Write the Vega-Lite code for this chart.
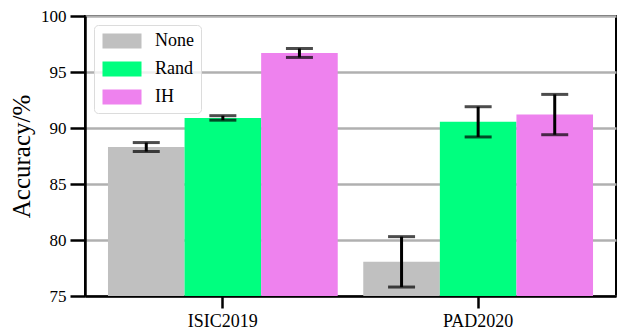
{
  "$schema": "https://vega.github.io/schema/vega-lite/v6.json",
  "autosize": "none",
  "width": 531,
  "height": 280,
  "padding": {"left": 85, "top": 16, "right": 1, "bottom": 34},
  "background": "white",
  "config": {
    "font": "Liberation Serif",
    "view": {"stroke": "black", "strokeWidth": 2},
    "axis": {
      "labelFont": "Liberation Serif",
      "titleFont": "Liberation Serif",
      "labelColor": "black",
      "titleColor": "black",
      "domainColor": "black",
      "domainWidth": 2.5,
      "tickColor": "black",
      "tickWidth": 2.5
    }
  },
  "data": {
    "values": [
      {"dataset": "ISIC2019", "method": "None", "acc": 88.3, "lo": 87.9, "hi": 88.7},
      {"dataset": "ISIC2019", "method": "Rand", "acc": 90.9, "lo": 90.7, "hi": 91.1},
      {"dataset": "ISIC2019", "method": "IH", "acc": 96.7, "lo": 96.3, "hi": 97.1},
      {"dataset": "PAD2020", "method": "None", "acc": 78.05, "lo": 75.8, "hi": 80.3},
      {"dataset": "PAD2020", "method": "Rand", "acc": 90.55, "lo": 89.2, "hi": 91.9},
      {"dataset": "PAD2020", "method": "IH", "acc": 91.2, "lo": 89.4, "hi": 93.0}
    ]
  },
  "encoding": {
    "x": {
      "field": "dataset", "type": "nominal", "sort": ["ISIC2019", "PAD2020"],
      "scale": {"paddingInner": 0.1, "paddingOuter": 0.09},
      "axis": {"title": null, "labelAngle": 0, "labelFontSize": 18, "tickSize": 12, "labelPadding": 4, "grid": false}
    },
    "xOffset": {"field": "method", "type": "nominal", "sort": ["None", "Rand", "IH"]}
  },
  "layer": [
    {
      "mark": {"type": "bar", "clip": true},
      "encoding": {
        "y": {
          "field": "acc", "type": "quantitative",
          "scale": {"domain": [75, 100], "zero": false, "nice": false},
          "axis": {
            "title": "Accuracy/%", "titleFontSize": 25, "titleFontWeight": "normal", "titlePadding": 6,
            "labelFontSize": 17, "tickSize": 15, "labelPadding": 4, "values": [75, 80, 85, 90, 95, 100],
            "grid": true, "gridColor": "#b0b0b0", "gridWidth": 2.5, "gridOpacity": 1
          }
        },
        "color": {
          "field": "method", "type": "nominal", "sort": ["None", "Rand", "IH"],
          "scale": {"domain": ["None", "Rand", "IH"], "range": ["#c0c0c0", "#00ff7f", "#ee82ee"]},
          "legend": {
            "title": null, "orient": "top-left", "offset": 9, "padding": 7,
            "strokeColor": "#dcdcdc", "cornerRadius": 4,
            "fillColor": "rgba(255,255,255,0.8)",
            "labelFont": "Liberation Serif", "labelFontSize": 18, "labelColor": "black",
            "symbolType": "M-1,-1H4.2V1H-1Z", "symbolSize": 225, "symbolStrokeWidth": 0,
            "labelOffset": 36, "rowPadding": 10
          }
        }
      }
    },
    {
      "mark": {"type": "rule", "color": "black", "strokeWidth": 3},
      "encoding": {
        "y": {"field": "lo", "type": "quantitative"},
        "y2": {"field": "hi"}
      }
    },
    {
      "mark": {"type": "tick", "color": "black", "thickness": 3, "size": 27},
      "encoding": {"y": {"field": "lo", "type": "quantitative"}}
    },
    {
      "mark": {"type": "tick", "color": "black", "thickness": 3, "size": 27},
      "encoding": {"y": {"field": "hi", "type": "quantitative"}}
    }
  ]
}
